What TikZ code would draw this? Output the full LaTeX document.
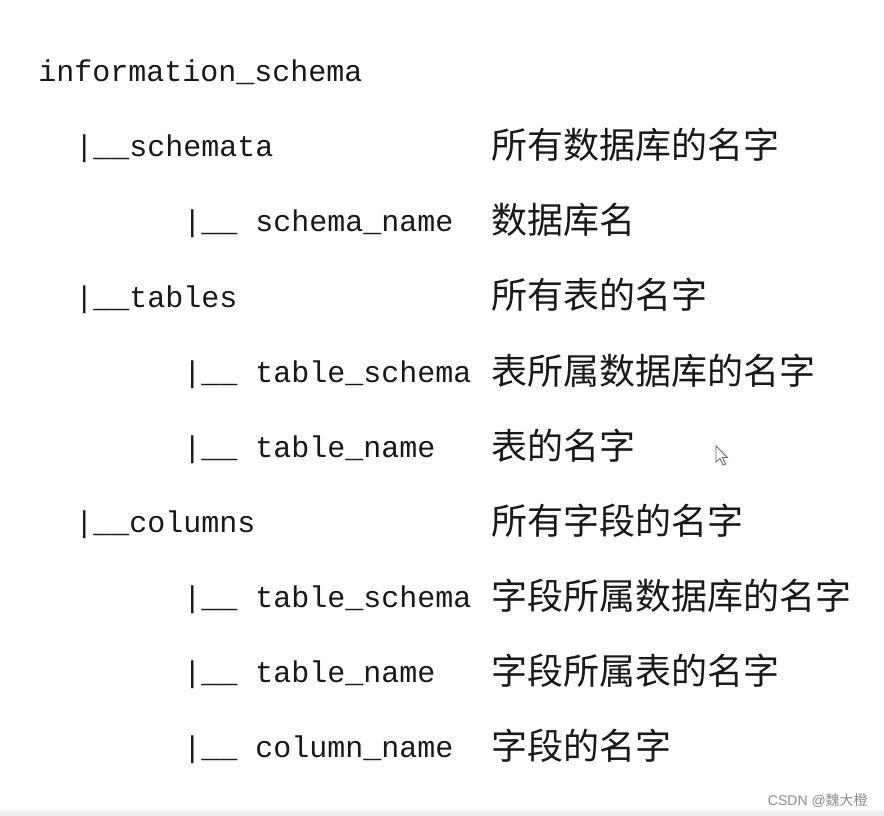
\documentclass[tikz,border=0pt]{standalone}
\usepackage{fontspec}
\newfontfamily\monof{Liberation Mono}
\newfontfamily\cjkf{Noto Sans CJK SC}
\newfontfamily\sansf{Liberation Sans}
\begin{document}
\begin{tikzpicture}[x=0.75pt,y=-0.75pt,
  code/.style={anchor=base west,inner sep=0pt,font=\monof\fontsize{22.5pt}{24pt}\selectfont,text=black!90},
  desc/.style={anchor=base west,inner sep=0pt,font=\cjkf\fontsize{27pt}{29pt}\selectfont,text=black!90},
  wmark/.style={anchor=base east,inner sep=0pt,font=\fontsize{10.5pt}{12pt}\selectfont,text=black!45}]
\fill[white] (0,0) rectangle (884,816);
\useasboundingbox (0,0) rectangle (884,816);
\fill[black!7] (0,811) rectangle (884,816);
% tree column
\node[code] (r0) at (38,82) {information\_schema};
\node[code] (r1) at (75,157) {|\_\_schemata};
\node[code] (r2) at (183,232) {|\_\_ schema\_name};
\node[code] (r3) at (75,307) {|\_\_tables};
\node[code] (r4) at (183,382) {|\_\_ table\_schema};
\node[code] (r5) at (183,457) {|\_\_ table\_name};
\node[code] (r6) at (75,532) {|\_\_columns};
\node[code] (r7) at (183,607) {|\_\_ table\_schema};
\node[code] (r8) at (183,682) {|\_\_ table\_name};
\node[code] (r9) at (183,757) {|\_\_ column\_name};
% description column
\node[desc] (d1) at (491,159) {所有数据库的名字};
\node[desc] (d2) at (491,234) {数据库名};
\node[desc] (d3) at (491,309) {所有表的名字};
\node[desc] (d4) at (491,384) {表所属数据库的名字};
\node[desc] (d5) at (491,459) {表的名字};
\node[desc] (d6) at (491,534) {所有字段的名字};
\node[desc] (d7) at (491,609) {字段所属数据库的名字};
\node[desc] (d8) at (491,684) {字段所属表的名字};
\node[desc] (d9) at (491,759) {字段的名字};
% mouse cursor
\draw[black!60,fill=white,line width=0.6pt,line join=miter]
  (716,446) -- (716,462) -- (720,458.5) -- (723,465) -- (725.5,464) -- (722.5,457.5) -- (727.5,457.5) -- cycle;
% watermark
\node[wmark] (wm) at (868,805) {\sansf CSDN @\cjkf 魏大橙};
\end{tikzpicture}
\end{document}
